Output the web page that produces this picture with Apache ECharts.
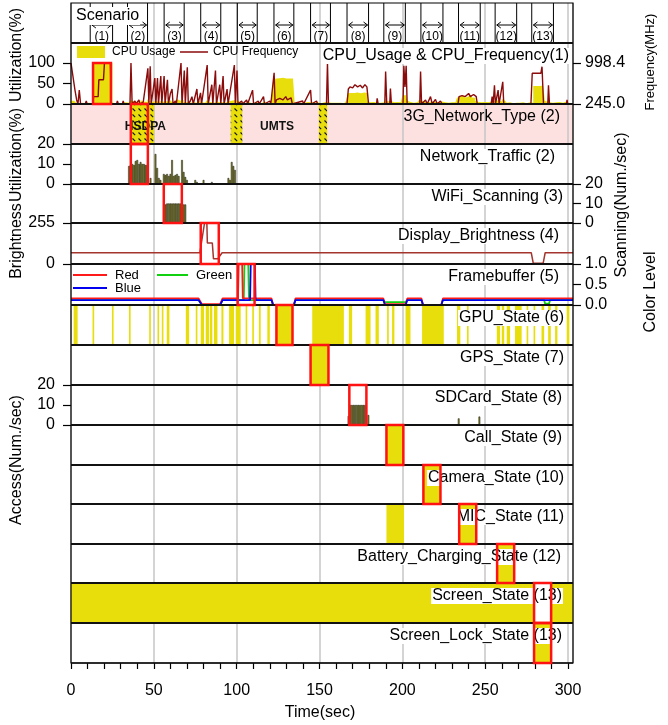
<!DOCTYPE html>
<html><head><meta charset="utf-8">
<script src="https://cdn.jsdelivr.net/npm/echarts@6/dist/echarts.min.js"></script>
<style>html,body{margin:0;padding:0;background:#fff}#c{width:668px;height:725px}</style>
</head><body><div id="c"></div>
<script>
// ---------------- DATA ----------------
const scenLabels = ['(1)','(2)','(3)','(4)','(5)','(6)','(7)','(8)','(9)','(10)','(11)','(12)','(13)'];
const scenStart = [11.6, 34.1, 56.2, 78.3, 100.4, 122.5, 144.6, 166.6, 188.8, 211.2, 233.9, 256, 278.1];
const scenEnd   = [25.1, 46.2, 68.3, 90.4, 112.4, 134.5, 156.6, 179.6, 201.8, 224.5, 247, 269, 291.2];
const boxStart = [13.3, 36.1, 56, 78.3, 100.6, 124, 144.6, 168, 190.4, 212.7, 234.3, 257.2, 279.5];
const boxEnd   = [24.1, 46.4, 66.9, 89.2, 110.8, 133.7, 155.4, 178.3, 200.6, 223, 244.6, 267.5, 289.8];

const cpuUsage = [
8,8,5,3,0,2,3,0,2,0, 3,0,2,100,100,100,100,100,100,100,
100,100,100,100,100,4,0,3,5,0, 2,0,4,0,3,2,10,6,8,5,
7,4,9,6,8,5,12,6,10,4, 8,12,5,7,9,4,8,6,5,7,
10,4,6,5,12,8,6,10,5,4, 6,3,5,4,6,3,5,8,4,6,
3,7,10,5,4,8,3,6,9,4, 5,7,3,4,6,3,8,5,10,6,
7,4,3,5,2,4,6,3,2,5, 3,2,4,3,2,5,6,3,2,4,
3,5,60,62,63,63,62,64,63,62, 63,62,63,62,60,3,2,4,3,2,
3,2,5,3,4,8,3,2,4,3, 2,3,4,2,5,8,3,2,3,2,
3,2,3,4,2,5,8,26,27,28, 27,26,28,27,26,27,28,26,27,6,
4,3,5,6,3,4,3,5,4,8, 12,6,8,5,4,6,5,3,4,6,
20,22,18,8,5,4,3,2,4,3, 10,8,6,5,7,4,5,6,8,5,
7,5,4,6,3,4,5,3,2,4, 3,4,5,15,18,16,20,17,15,19,
18,22,16,15,8,5,3,4,3,5, 3,4,5,6,10,8,12,9,10,6,
12,8,5,3,4,3,2,4,3,2, 3,2,4,3,2,3,4,3,3,44,
44,45,44,44,45,44,8,5,10,4, 3,2,4,3,5,2,3,4,6,3,
2,3,2
];
const cpuFreq = [
[0,998.4],[1.2,998.4],[2.4,500],[3.4,320],[4.2,245],[5,500],[5.8,245],[8.6,245],[9.2,300],[9.8,245],
[13.2,245],[13.6,380],[16.4,380],[16.8,690],[19.6,690],[20.2,998.4],[23.8,998.4],[24.3,245],
[27.5,245],[28,300],[28.6,245],[31,245],[31.5,300],[32,245],
[35.6,245],[36.2,998.4],[36.9,245],[38.6,300],[39.2,245],[41,320],[41.6,245],[43.6,280],[44.2,245],
[46.4,900],[47,245],[47.8,940],[48.4,245],[50.6,720],[51.2,245],[52.2,720],[52.8,245],[54.2,760],[54.8,245],
[56.2,760],[56.8,245],[58.2,690],[58.8,245],[60,440],[61,520],[61.6,245],[63,300],[63.6,245],
[66.4,998.4],[67,245],[68.4,860],[69,245],[70.2,920],[70.8,245],[72,300],[73,380],[73.8,245],
[76,520],[76.6,245],[78.2,450],[78.8,245],[82.2,960],[82.8,245],[85,600],[85.6,245],[87.2,860],[87.8,245],
[89.8,600],[90.4,245],[91.8,760],[92.4,245],[94.2,520],[94.8,245],[98.6,960],[99.2,245],[100.2,860],[100.8,245],
[103,300],[103.6,245],[106,320],[106.6,245],[109.6,500],[110.2,245],[113,300],[113.6,245],[116.2,380],[116.8,245],
[120,300],[120.6,245],[122.6,820],[123.2,245],[124,320],[126,350],[128,320],[129.6,380],[130.6,320],[132.8,360],[133.6,245],
[139.8,300],[140.4,245],[144.6,500],[145.2,245],[148.2,300],[148.8,245],[154.2,245],[154.8,998.4],[155.4,245],
[166.6,245],[167.4,520],[168.4,560],[170,540],[171.4,600],[173,560],[174.6,590],[176,540],[177.4,600],[178.6,560],[179.6,245],
[184.4,245],[184.8,350],[185.4,245],[189.4,245],[189.9,840],[190.6,245],[192.4,245],[192.8,530],[193.4,245],
[200.4,245],[200.9,946],[201.6,560],[202.3,946],[202.9,245],[210.5,245],[211,840],[211.6,245],
[214,320],[215,245],[217,380],[218,245],[220,330],[221,245],[223,300],[224,245],
[233.6,245],[234.2,381],[236,400],[238,381],[240,440],[241,381],[243,420],[244.6,381],[245.2,245],
[253.6,245],[254.2,381],[254.8,245],[255.6,590],[256.2,245],[257.8,500],[258.4,245],[260.6,654],[261.2,245],
[277.6,245],[278.4,810],[283.6,810],[284.3,930],[285.2,245],[287.8,245],[288.2,590],[288.8,245],[299,245],[299.4,320],[299.8,245],[303,245]
];
const freqTicks = [245.0, 998.4];
const netHatch = [[36.1,50.2],[96.4,103.4],[149.6,154.6]];
const netNames = ['HSDPA','UMTS'];
const netNameT = [44.9, 124.4];
const traffic = [[35,9],[36,9.5],[37,10],[38,9.5],[39,11.5],[40,12],[41,10],[42,11],[43,10],[44,10],[45,9.5],[46,9.5],
[48,3],[51,15],[52,8],[53,3],[54,2],[56,5],[57,4.5],[58,5],[59,4],[60,5],[61,12],[62,4],[63,4.5],[64,5],[65,4],
[67,12],[68,6],[69,3.5],[70,2],[75,2],[76,1],[80,2],[85,1],[95,3],[96,2],[97,11],[98,9],[99,7]];
const wifiScan = [[57,9.5],[58,10],[59,10],[60,10],[61,10],[62,10],[63,10],[64,10],[65,10],[66,10],[67,9],[68,9.5],[69,9.5]];
const brightness = [[0,70],[77.8,70],[80.6,255],[82,255],[82.3,130],[85.3,130],[86,32],[88.6,32],[91.2,70],[277.8,70],[279,5],[285,5],[286.2,70],[303,70]];
const fbRed = [[0,.16],[77,.16],[79,.02],[90,.02],[91.5,.16],[100.8,.16],[101.2,1],[103.3,1],[103.7,.16],[121,.16],[122,0],[134.5,0],[135.5,.16],[188.5,.16],[189.5,.02],[202,.02],[203,.16],[211.5,.16],[212.5,0],[223.5,0],[224.5,.16],[303,.16]];
const fbGreen = [[0,.12],[77,.12],[79,0],[90,0],[91.5,.12],[104.3,.12],[104.7,1],[107,1],[107.4,.12],[121,.12],[122,0],[134.5,0],[135.5,.12],[188.5,.12],[189.5,.07],[202,.07],[203,.12],[211.5,.12],[212.5,0],[223.5,0],[224.5,.12],[285.5,.12],[286.2,.03],[288.5,.03],[289.2,.12],[303,.12]];
const fbBlue = [[0,.12],[77,.12],[79,0],[90,0],[91.5,.12],[108.1,.12],[108.5,1],[111,1],[111.4,.12],[121,.12],[122,0],[134.5,0],[135.5,.12],[188.5,.12],[189.5,0],[202,0],[203,.12],[211.5,.12],[212.5,0],[223.5,0],[224.5,.12],[303,.12]];
const gpuOn = [[1.6,4],[13,14],[24.7,25.7],[35,36],[47.2,48.2],[52.2,53.2],[54.8,55.8],[57.8,59.4],[69.3,71.3],[75.3,76.3],
[78.3,80.3],[81.3,83.3],[83.8,85.3],[86.3,88.4],[90.8,92],[95.4,98.4],[99.4,102.4],[105.4,106.4],[109.4,110.4],[113.4,114.5],
[118.5,120],[123.5,133.5],[145.6,164.7],[167.7,169.7],[177.8,180.8],[183.8,185.8],[190.8,191.8],[193.8,195.2],[201.9,204.9],
[211.9,225],[233,235],[239,240],[257,259],[260,261.5],[263,265],[268,272],[275,276],[279.2,280.2],[284,285.6],[288,289.6],
[292.2,293.6],[299.2,300.8]];
const gpsOn = [[144.6,155.4]];
const sdAccess = [[167.5,4.5],[168.5,10],[169.5,10],[170.5,10],[171.5,10],[172.5,10],[173.5,10],[174.5,10],[175.5,10],[176.5,10],[177.5,10],[179.5,5],[234,3.3],[246.5,4.2]];
const callOn = [[190.6,200.6]];
const cameraOn = [[212.8,223]];
const micOn = [[190.4,201],[234.8,244.8]];
const batteryOn = [[257.4,267.5]];
const screenOn = [[0,279.8],[289.8,303]];
const lockOn = [[279.8,289.8]];
const panelTitles = ['CPU_Usage & CPU_Frequency(1)','3G_Network_Type (2)','Network_Traffic (2)','WiFi_Scanning (3)',
'Display_Brightness (4)','Framebuffer (5)','GPU_State (6)','GPS_State (7)','SDCard_State (8)','Call_State (9)',
'Camera_State (10)','MIC_State (11)','Battery_Charging_State (12)','Screen_State (13)','Screen_Lock_State (13)'];
const xTickVals = [0,10,20,30,40,50,60,70,80,90,100,110,120,130,140,150,160,170,180,190,200,210,220,230,240,250,260,270,280,290,300];
const xLabelVals = [0,50,100,150,200,250,300];

// ---------------- LAYOUT ----------------
const FONT = "'Liberation Sans', Arial, Helvetica, sans-serif";
const YEL = '#e8de0c';
const L = 71, W = 502, XMAX = 303;
// grids: 0 scen, 1 cpuHead, 2 cpu, 3 net, 4 traffic, 5 wifi, 6 bright, 7 fb, 8 gpu, 9 gps, 10 sd, 11 call, 12 cam, 13 mic, 14 bat, 15 scr, 16 lock
const gTops = [3,43,63,104,144,184,223,264,305,345,385,425,465,504,544,583,623,663];
const yMax = [1,1,100,1,20,20,255,1,1,1,20,1,1,1,1,1,1];
const NG = 17;
const panelTopIdx = [1,3,4,5,6,7,8,9,10,11,12,13,14,15,16];

const grids=[], xAxes=[], yAxes=[], series=[], graphics=[];
for (let i=0;i<NG;i++){
  grids.push({left:L, width:W, top:gTops[i], height:gTops[i+1]-gTops[i], show:i===3, backgroundColor:i===3?'#fde1e1':'transparent', borderWidth:0});
  xAxes.push({type:'value', gridIndex:i, min:0, max:XMAX, interval:50,
    axisLine:{show:false, onZero:false}, axisTick:{show:false}, axisLabel:{show:false},
    splitLine:{show:true, lineStyle:{color:'#c6c6c6', width:1.5}}});
}
xAxes.push({type:'value', gridIndex:16, position:'bottom', min:0, max:XMAX,
  axisLine:{show:false, onZero:false}, splitLine:{show:false},
  axisTick:{show:true, length:6, customValues:xTickVals, lineStyle:{color:'#000',width:1.2}},
  axisLabel:{show:true, customValues:xLabelVals, fontSize:16, color:'#000', fontFamily:FONT, margin:20}});

function hiddenY(gi,max){return {type:'value', gridIndex:gi, min:0, max:max, show:false, axisLine:{onZero:false}, splitLine:{show:false}};}
function shownY(gi,min,max,interval,pos,fmt,margin){
  return {type:'value', gridIndex:gi, position:pos, min:min, max:max, interval:interval, show:true,
    axisLine:{show:false, onZero:false}, splitLine:{show:false},
    axisTick:{show:true, length:8, lineStyle:{color:'#000',width:1.2}},
    axisLabel:{show:true, fontSize:16, color:'#000', fontFamily:FONT, margin:margin, formatter:fmt||(v=>String(v))}};
}
for (let i=0;i<NG;i++) yAxes.push(hiddenY(i,yMax[i]));
yAxes[2] = shownY(2,0,100,50,'left',null,16);
yAxes[4] = shownY(4,0,20,10,'left',null,16);
yAxes[5] = shownY(5,0,20,10,'right',null,12);
yAxes[6] = shownY(6,0,255,255,'left',null,16);
yAxes[7] = shownY(7,0,1,0.5,'right',v=>v.toFixed(1),12);
yAxes[10] = shownY(10,0,20,10,'left',null,16);
yAxes.push(shownY(2,freqTicks[0],freqTicks[1],freqTicks[1]-freqTicks[0],'right',
  v=>(freqTicks.some(f=>Math.abs(f-v)<0.01)?v.toFixed(1):''),12));

// --------------- helpers ---------------
function rectSeries(gi, yi, rows, styleFn, z){
  return {type:'custom', xAxisIndex:gi, yAxisIndex:yi, z:z||3, clip:false,
    data: rows, encode:{x:[0,1], y:[2,3]},
    renderItem:function(params, api){
      const a = api.coord([api.value(0), api.value(3)]);
      const b = api.coord([api.value(1), api.value(2)]);
      return {type:'rect', shape:{x:a[0], y:a[1], width:b[0]-a[0], height:b[1]-a[1]}, style:styleFn()};
    }};
}
function blocks(gi, arr){ return rectSeries(gi, gi, arr.map(d=>[d[0],d[1],0,yMax[gi]]), ()=>({fill:YEL}), 3); }

function hatchCanvas(){
  const c=document.createElement('canvas'); c.width=6; c.height=6;
  const g=c.getContext('2d'); g.fillStyle=YEL; g.fillRect(0,0,6,6);
  g.strokeStyle='#111'; g.lineWidth=1.1; g.beginPath(); g.moveTo(0.5,0.5); g.lineTo(3.2,3.2); g.stroke();
  return c;
}
const hatch = hatchCanvas();

// --------------- series ---------------
series.push({type:'custom', xAxisIndex:0, yAxisIndex:0, z:5, clip:false,
  data: scenStart.map((s,i)=>[s, scenEnd[i]]), encode:{x:[0,1]},
  renderItem:function(params, api){
    const s=api.value(0), e=api.value(1), i=params.dataIndex;
    const t0=api.coord([s,1]), b0=api.coord([s,0]), t1=api.coord([e,1]);
    const h=b0[1]-t0[1];
    const yA=t0[1]+h*0.55, yL=t0[1]+h*0.83;
    const x0=api.coord([s+1.0,0])[0], x1=api.coord([e-0.6,0])[0];
    const st={stroke:'#000', lineWidth:1, fill:null};
    return {type:'group', children:[
      {type:'line', shape:{x1:t0[0],y1:t0[1],x2:t0[0],y2:b0[1]}, style:st},
      {type:'line', shape:{x1:t1[0],y1:t0[1],x2:t1[0],y2:b0[1]}, style:st},
      {type:'line', shape:{x1:x0,y1:yA,x2:x1,y2:yA}, style:st},
      {type:'polyline', shape:{points:[[x0+4,yA-3],[x0,yA],[x0+4,yA+3]]}, style:st},
      {type:'polyline', shape:{points:[[x1-4,yA-3],[x1,yA],[x1-4,yA+3]]}, style:st},
      {type:'text', style:{text:scenLabels[i], x:(x0+x1)/2, y:yL, align:'center', verticalAlign:'middle', textAlign:'center', textVerticalAlign:'middle', font:'12px '+FONT, fill:'#000'}}
    ]};
  }});
series.push({type:'line', xAxisIndex:2, yAxisIndex:2, step:'end', symbol:'none', z:2,
  data: cpuUsage.map((v,i)=>[i,v]).concat([[303,0]]),
  lineStyle:{width:0, opacity:0}, areaStyle:{color:YEL, opacity:1}});
series.push({type:'line', xAxisIndex:2, yAxisIndex:17, symbol:'none', z:4, data:cpuFreq,
  lineStyle:{color:'#8b0a0a', width:1.4}});
series.push(rectSeries(3,3,netHatch.map(d=>[d[0],d[1],0,1]),()=>({fill:{image:hatch, repeat:'repeat'}}),3));
series.push({type:'custom', xAxisIndex:3, yAxisIndex:3, z:4, data: netNameT.map(t=>[t,0.5]), encode:{x:0,y:1},
  renderItem:function(params, api){
    const p=api.coord([api.value(0), api.value(1)]);
    return {type:'text', style:{text:netNames[params.dataIndex], x:p[0], y:p[1]+3, align:'center', verticalAlign:'middle', textAlign:'center', textVerticalAlign:'middle', font:'bold 12px '+FONT, fill:'#111'}};
  }});
const barStyle = {color:'#8c8c1a', borderColor:'#111', borderWidth:0.5};
series.push({type:'bar', xAxisIndex:4, yAxisIndex:4, barWidth:1.7, data:traffic, z:3, itemStyle:barStyle});
series.push({type:'bar', xAxisIndex:5, yAxisIndex:5, barWidth:1.7, data:wifiScan, z:3, itemStyle:barStyle});
series.push({type:'line', xAxisIndex:6, yAxisIndex:6, symbol:'none', data:brightness, lineStyle:{color:'#a3342e', width:1.5}});
series.push({type:'line', xAxisIndex:7, yAxisIndex:7, symbol:'none', data:fbGreen, z:3, lineStyle:{color:'#10d010', width:1.8}});
series.push({type:'line', xAxisIndex:7, yAxisIndex:7, symbol:'none', data:fbRed, z:4, lineStyle:{color:'#ff1a1a', width:1.8}});
series.push({type:'line', xAxisIndex:7, yAxisIndex:7, symbol:'none', data:fbBlue, z:5, lineStyle:{color:'#0000ee', width:1.8}});
series.push(blocks(8,gpuOn));
series.push(blocks(9,gpsOn));
series.push({type:'bar', xAxisIndex:10, yAxisIndex:10, barWidth:1.7, data:sdAccess, z:3, itemStyle:barStyle});
series.push(blocks(11,callOn));
series.push(blocks(12,cameraOn));
series.push(blocks(13,micOn));
series.push(blocks(14,batteryOn));
series.push(blocks(15,screenOn));
series.push(blocks(16,lockOn));
const boxMap = [[2,0,0,100],[3,1,0,1],[4,1,0,20],[5,2,0,20],[6,3,0,255],[7,4,0,1],[8,5,0,1],[9,6,0,1],[10,7,0,20],[11,8,0,1],[12,9,0,1],[13,10,0,1],[14,11,0,1],[15,12,0,1],[16,12,0,1]];
boxMap.forEach(b=>{
  series.push(rectSeries(b[0], b[0], [[boxStart[b[1]], boxEnd[b[1]], b[2], b[3]]], ()=>({fill:null, stroke:'#ff1212', lineWidth:2.5}), 30));
});

// --------------- graphics ---------------
graphics.push({type:'rect', z:20, shape:{x:L, y:gTops[0], width:W, height:gTops[NG]-gTops[0]}, style:{fill:null, stroke:'#000', lineWidth:1.2}});
panelTopIdx.forEach(i=>graphics.push({type:'line', z:20, shape:{x1:L, y1:gTops[i], x2:L+W, y2:gTops[i]}, style:{stroke:'#111', lineWidth:1.8}}));
graphics.push({type:'line', z:20, shape:{x1:L, y1:gTops[NG], x2:L+W, y2:gTops[NG]}, style:{stroke:'#111', lineWidth:1.6}});
function T(text,x,y,size,align,extra){
  return {type:'text', z:25, style:Object.assign({text:text, x:x, y:y, font:size+'px '+FONT, fill:'#000', align:align||'left', textAlign:align||'left', verticalAlign:'middle', textVerticalAlign:'middle'}, extra||{})};
}
const titleRight = [570,560,556,564,560,560,565,565,563,563,565,565,562,563,563];
panelTitles.forEach((t,k)=>{
  const g=panelTopIdx[k];
  const bg = g===3 ? {} : {backgroundColor:'#fff', padding:[0,1]};
  graphics.push(T(t, titleRight[k], gTops[g]+13, 16, 'right', bg));
});
graphics.push(T('Scenario', 75, 16, 16, 'left', {backgroundColor:'#fff', padding:[1,1]}));
function R(text,x,y,size){ return {type:'text', z:25, x:x, y:y, rotation:Math.PI/2,
  style:{text:text, x:0, y:0, font:(size||16)+'px '+FONT, fill:'#000', align:'center', textAlign:'center', verticalAlign:'middle', textVerticalAlign:'middle'}}; }
graphics.push(R('Utilization(%)',17,55,16));
graphics.push(R('Utilization(%)',17,155,16));
graphics.push(R('Brightness',17,241,16));
graphics.push(R('Access(Num./sec)',17,460,16));
graphics.push(R('Frequency(MHz)',650,62,13));
graphics.push(R('Scanning(Num./sec)',622,205,16));
graphics.push(R('Color Level',651,292,16));
graphics.push(T('Time(sec)', 320, 713, 16, 'center'));
graphics.push({type:'rect', z:25, shape:{x:77,y:46,width:28,height:12}, style:{fill:YEL}});
graphics.push(T('CPU Usage',112,52,12,'left'));
graphics.push({type:'line', z:25, shape:{x1:180,y1:52,x2:208,y2:52}, style:{stroke:'#8b0a0a', lineWidth:1.5}});
graphics.push(T('CPU Frequency',213,52,12,'left'));
graphics.push({type:'line', z:25, shape:{x1:73,y1:275,x2:107,y2:275}, style:{stroke:'#ff1a1a', lineWidth:2}});
graphics.push(T('Red',115,275,13,'left'));
graphics.push({type:'line', z:25, shape:{x1:157,y1:275,x2:188,y2:275}, style:{stroke:'#10d010', lineWidth:2}});
graphics.push(T('Green',196,275,13,'left'));
graphics.push({type:'line', z:25, shape:{x1:73,y1:288,x2:107,y2:288}, style:{stroke:'#0000ee', lineWidth:2}});
graphics.push(T('Blue',115,288,13,'left'));

const chart = echarts.init(document.getElementById('c'), null, {renderer:'canvas'});
chart.setOption({animation:false, backgroundColor:'#fff', textStyle:{fontFamily:FONT},
  grid:grids, xAxis:xAxes, yAxis:yAxes, series:series, graphic:{elements:graphics}});
</script></body></html>
